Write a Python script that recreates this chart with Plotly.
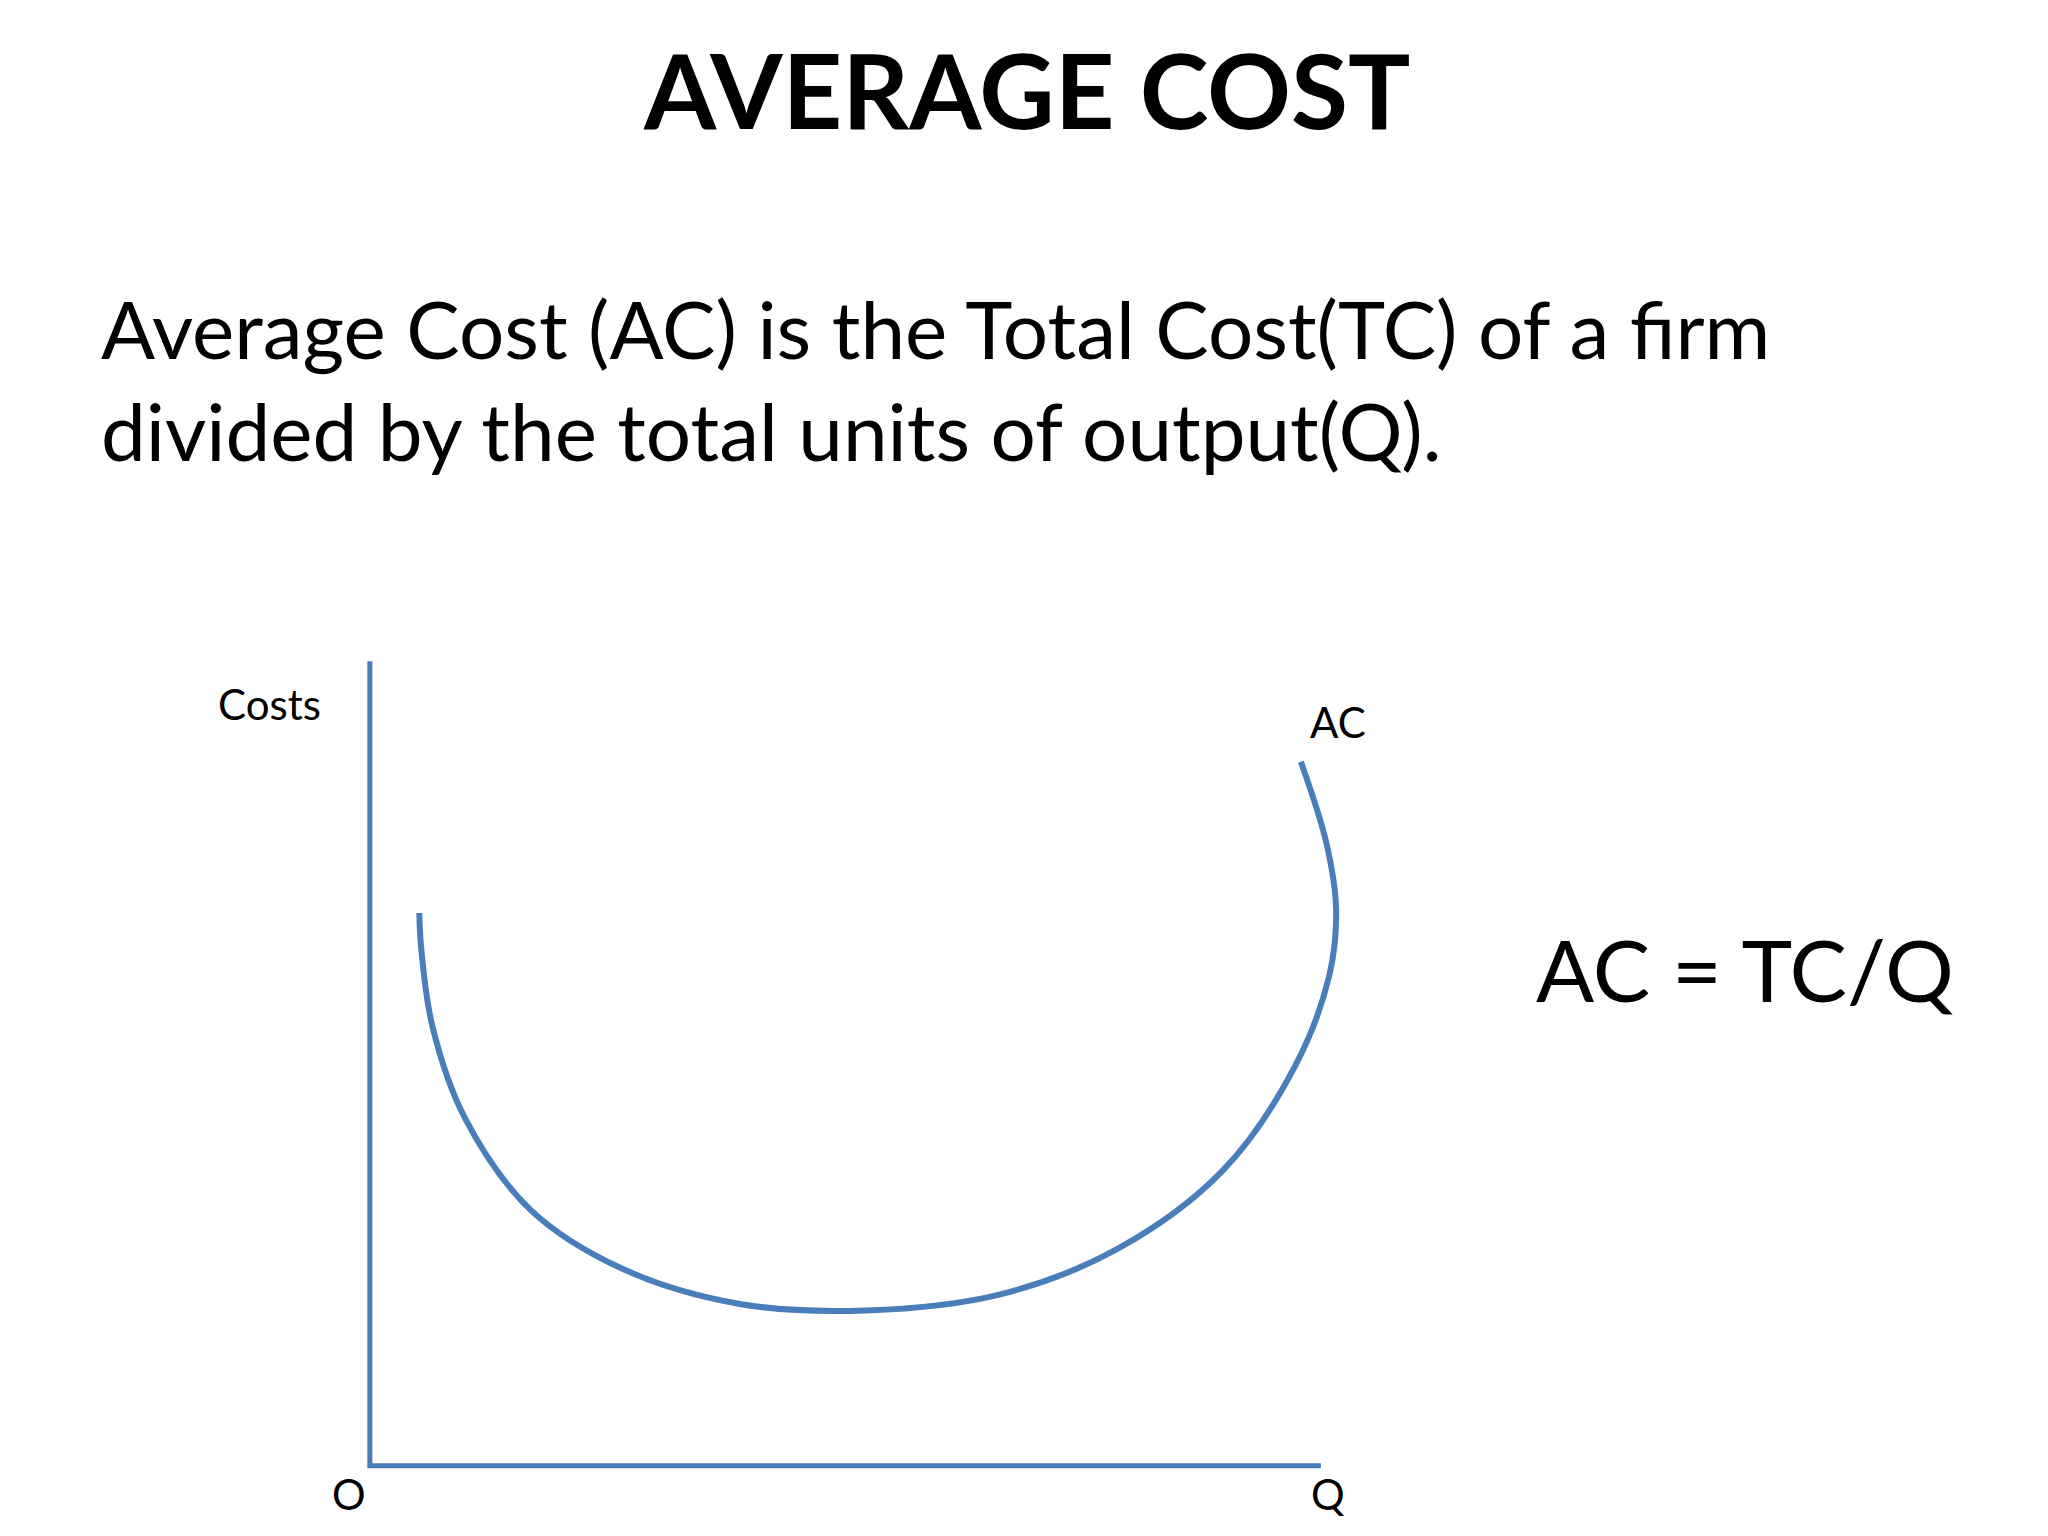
import plotly.graph_objects as go

# AC curve (x = output, y = cost, axes 0..100)
ac_x = [5.2, 5.4, 6.6, 10.0, 16.9, 26.5, 38.9, 52.2, 66.3, 78.7, 89.7, 97.3, 100.9, 101.6, 100.6, 97.9]
ac_y = [68.7, 64.3, 54.5, 43.2, 31.8, 24.5, 20.1, 19.3, 21.3, 27.0, 36.7, 49.7, 61.0, 69.2, 77.3, 87.5]

axis_x = [0, 0, 100]
axis_y = [100, 0, 0]

blue = "#4a7ebb"
font = "Lato"

fig = go.Figure()
fig.add_trace(go.Scatter(x=axis_x, y=axis_y, mode="lines",
                         line=dict(color=blue, width=5), hoverinfo="skip"))
fig.add_trace(go.Scatter(x=ac_x, y=ac_y, mode="lines",
                         line=dict(color=blue, width=6, shape="spline", smoothing=1.0)))


def note(text, x, y, size, bold=False, xanchor="center"):
    fig.add_annotation(text=f"<b>{text}</b>" if bold else text, x=x, y=y,
                       xref="paper", yref="paper", showarrow=False,
                       xanchor=xanchor, yanchor="middle",
                       font=dict(family=font, size=size, color="black"))


W, H = 1568, 1176
note("AVERAGE COST", 780 / W, 1 - 62 / H, 104, bold=True)
note("Average Cost (AC) is the Total Cost(TC) of a firm", 70 / W, 1 - 245 / H, 80, xanchor="left")
note("divided by the total units of output(Q).", 70 / W, 1 - 323 / H, 80, xanchor="left")
note("Costs", 200 / W, 1 - 533 / H, 42)
note("AC", 1018 / W, 1 - 547 / H, 42)
note("O", 261 / W, 1 - 1138 / H, 42)
note("Q", 1011 / W, 1 - 1138 / H, 42)
note("AC = TC/Q", 1330 / W, 1 - 735 / H, 86)

fig.update_layout(
    width=2048, height=1536, showlegend=False,
    margin=dict(l=0, r=0, t=0, b=0),
    paper_bgcolor="white", plot_bgcolor="white",
    xaxis=dict(range=[-38.05, 177.3], visible=False),
    yaxis=dict(range=[-9.74, 181.2], visible=False),
)

fig.write_html("out.html")
